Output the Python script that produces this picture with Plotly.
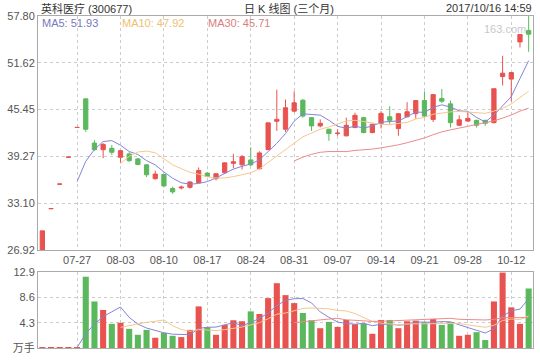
import plotly.graph_objects as go
import pandas as pd

dates = ["07-21","07-24","07-25","07-26","07-27","07-28","07-31",
         "08-01","08-02","08-03","08-04","08-07","08-08","08-09","08-10","08-11",
         "08-14","08-15","08-16","08-17","08-18","08-21","08-22","08-23","08-24","08-25",
         "08-28","08-29","08-30","08-31",
         "09-01","09-04","09-05","09-06","09-07","09-08","09-11","09-12","09-13","09-14","09-15",
         "09-18","09-19","09-20","09-21","09-22","09-25","09-26","09-27","09-28","09-29",
         "10-09","10-10","10-11","10-12","10-13","10-16"]

opens  = [24.53,32.36,35.60,39.16,43.08,46.86,41.02,
          40.15,40.33,39.15,39.59,38.93,38.15,36.32,36.88,35.02,
          35.10,35.19,35.80,37.06,36.32,37.10,38.35,38.15,38.80,37.63,
          40.15,43.90,42.85,45.24,
          46.68,44.38,43.29,42.85,42.28,41.98,43.07,44.38,42.42,43.59,44.50,
          42.94,44.50,44.90,46.64,44.15,46.90,46.20,43.37,43.93,44.02,
          44.02,43.72,49.81,49.47,54.38,55.90]
highs  = [29.43,32.37,35.61,39.17,43.09,46.86,41.41,
          41.00,40.76,40.10,39.81,39.06,38.20,37.37,36.95,35.28,
          35.40,35.95,37.80,37.15,37.00,38.45,39.59,39.45,40.46,39.94,
          43.72,48.07,46.77,47.85,
          46.86,44.45,44.15,42.90,42.85,44.38,45.03,44.50,43.60,45.24,45.89,
          45.00,46.42,46.70,47.85,47.50,48.16,46.64,44.68,45.24,44.10,
          44.10,48.20,52.55,50.40,55.38,57.80]
lows   = [24.53,32.36,35.60,39.16,43.08,42.50,40.02,
          39.02,39.45,38.45,38.50,38.10,36.54,36.20,35.19,34.32,
          34.90,35.00,35.70,36.60,36.10,37.00,37.72,37.54,37.98,37.55,
          40.10,42.63,42.50,45.10,
          44.38,42.63,43.10,41.32,41.98,41.90,43.00,42.30,42.30,42.94,43.50,
          41.98,44.40,44.24,44.40,43.80,46.30,43.07,43.30,43.80,43.07,
          43.30,43.60,48.63,46.55,53.65,53.07]
closes = [29.43,32.37,35.61,39.17,43.09,42.85,40.15,
          40.85,39.81,40.02,38.71,38.19,36.84,36.93,35.37,34.58,
          35.20,35.89,37.40,36.62,36.97,38.41,38.55,39.23,38.15,39.72,
          43.69,44.15,45.68,46.34,
          44.59,43.29,43.63,42.29,42.33,43.37,44.68,42.42,43.50,44.94,44.02,
          44.90,45.16,46.64,44.59,47.42,46.55,43.72,44.10,44.28,43.37,
          43.63,48.20,50.25,50.33,55.36,55.40]
volumes = [0.05,0.02,0.02,0.03,0.15,12.1,7.9,
           6.45,4.1,4.27,3.25,2.24,3.08,1.74,2.58,2.07,
           1.85,3.08,7.06,3.53,2.24,3.92,4.71,4.54,6.22,5.77,
           8.46,11.0,8.97,7.62,
           5.94,4.71,3.36,4.43,3.58,4.76,4.04,4.15,2.41,4.76,4.76,
           3.36,4.54,4.65,4.37,4.93,3.92,4.37,2.07,2.24,2.69,
           1.35,7.9,12.8,6.9,4.1,10.1]

tick_labels = ["07-27","08-03","08-10","08-17","08-24","08-31",
               "09-07","09-14","09-21","09-28","10-12"]
price_ticks = [26.92, 33.10, 39.27, 45.45, 51.62, 57.80]
price_tick_text = ["26.92", "33.10", "39.27", "45.45", "51.62", "57.80"]
vol_ticks = [0, 4.3, 8.6, 12.9]
vol_tick_text = ["万手", "4.3", "8.6", "12.9"]

RED = "#e8524f"
GREEN = "#5cb85c"
C_MA5 = "#8484dc"
C_MA10 = "#f5c890"
C_MA30 = "#ec8a8a"
GRID = "#cccccc"
FRAME = "#aaaaaa"
FONT = "Liberation Sans, Noto Sans CJK SC, sans-serif"

x = list(range(len(dates)))
tickvals = [dates.index(t) for t in tick_labels]

cs = pd.Series(closes)
vs = pd.Series(volumes)

fig = go.Figure()

fig.add_trace(go.Candlestick(
    x=x, open=opens, high=highs, low=lows, close=closes,
    increasing=dict(line=dict(color=RED, width=1), fillcolor=RED),
    decreasing=dict(line=dict(color=GREEN, width=1), fillcolor=GREEN),
    whiskerwidth=0, xaxis="x", yaxis="y", showlegend=False, hoverinfo="skip"))

for n, col in [(5, C_MA5), (10, C_MA10), (30, C_MA30)]:
    fig.add_trace(go.Scatter(x=x, y=cs.rolling(n).mean(), mode="lines",
                             line=dict(color=col, width=1), xaxis="x", yaxis="y",
                             showlegend=False, hoverinfo="skip"))

vol_colors = [RED if c >= o else GREEN for o, c in zip(opens, closes)]
fig.add_trace(go.Bar(x=x, y=volumes, marker=dict(color=vol_colors, line=dict(width=0)),
                     width=0.7, xaxis="x2", yaxis="y2", showlegend=False, hoverinfo="skip"))

for n, col in [(5, C_MA5), (10, C_MA10), (30, C_MA30)]:
    fig.add_trace(go.Scatter(x=x, y=vs.rolling(n).mean(), mode="lines",
                             line=dict(color=col, width=1), xaxis="x2", yaxis="y2",
                             showlegend=False, hoverinfo="skip"))

H_TOP, H_BOT = 16, 351
def py(p):
    return (H_BOT - p) / (H_BOT - H_TOP)
def px(p):
    return (p - 38) / 496

common_x = dict(range=[-0.5, 56.5], tickmode="array", tickvals=tickvals,
                showgrid=True, gridcolor=GRID, griddash="3px,3px", gridwidth=1,
                showline=True, linecolor=FRAME, linewidth=1, mirror=True,
                zeroline=False, ticks="", fixedrange=True)

fig.update_layout(
    width=540, height=360,
    margin=dict(l=38, r=6, t=16, b=9),
    paper_bgcolor="white", plot_bgcolor="white",
    font=dict(family=FONT, size=11, color="#555555"),
    showlegend=False,
    xaxis=dict(**common_x, ticktext=tick_labels, showticklabels=True,
               rangeslider=dict(visible=False), anchor="y",
               tickfont=dict(size=11, color="#555555")),
    xaxis2=dict(**common_x, showticklabels=False, anchor="y2", matches="x"),
    yaxis=dict(domain=[py(252), 1], range=[26.919, 57.801], tickmode="array",
               tickvals=price_ticks, ticktext=price_tick_text,
               showgrid=True, gridcolor=GRID, griddash="3px,3px",
               showline=True, linecolor=FRAME, mirror=True, zeroline=False,
               ticks="", fixedrange=True, tickfont=dict(size=11, color="#555555")),
    yaxis2=dict(domain=[0, py(274.3)], range=[0, 12.901], tickmode="array",
                tickvals=vol_ticks, ticktext=vol_tick_text,
                showgrid=True, gridcolor=GRID, griddash="3px,3px",
                showline=True, linecolor=FRAME, mirror=True, zeroline=False,
                ticks="", fixedrange=True, tickfont=dict(size=11, color="#555555")),
    bargap=0.3,
)

ann = [
    dict(text="英科医疗 (300677)", x=px(39), y=py(8), xanchor="left", color="#333333"),
    dict(text="日 K 线图 (三个月)", x=px(290), y=py(8), xanchor="center", color="#333333"),
    dict(text="2017/10/16 14:59", x=px(535), y=py(8), xanchor="right", color="#333333"),
    dict(text="MA5: 51.93", x=px(40), y=py(23), xanchor="left", color="#7878c0"),
    dict(text="MA10: 47.92", x=px(120), y=py(23), xanchor="left", color="#f0c070"),
    dict(text="MA30: 45.71", x=px(206), y=py(23), xanchor="left", color="#d88080"),
    dict(text="163.com", x=px(529), y=py(29), xanchor="right", color="#c8c8c8"),
]
for a in ann:
    fig.add_annotation(text=a["text"], x=a["x"], y=a["y"], xref="paper", yref="paper",
                       xanchor=a["xanchor"], yanchor="middle", showarrow=False,
                       font=dict(family=FONT, size=11, color=a["color"]))

fig.write_html("out.html", config={"displayModeBar": False},
               post_script="document.body.style.margin='0px';document.body.style.padding='0px';")
